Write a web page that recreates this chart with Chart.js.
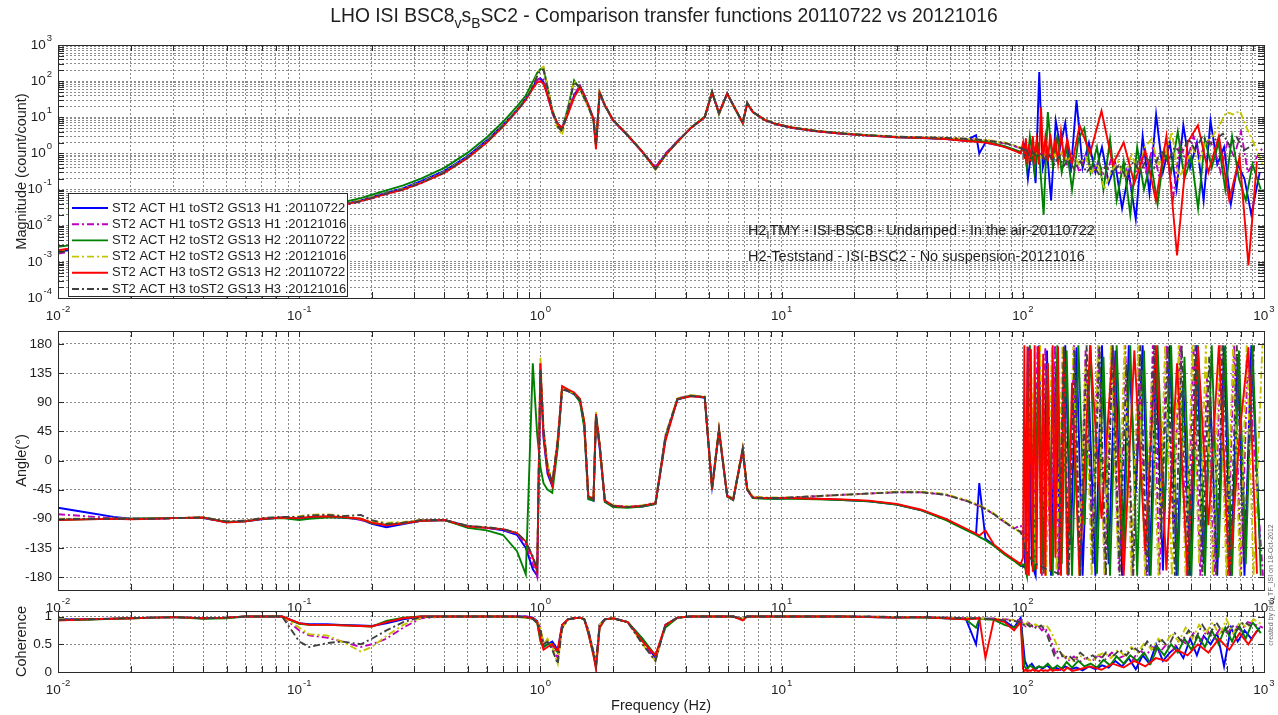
<!DOCTYPE html>
<html>
<head>
<meta charset="utf-8">
<title>LHO ISI BSC8 vs BSC2 transfer functions</title>
<script src="https://cdn.jsdelivr.net/npm/chart.js@4.4.1/dist/chart.umd.min.js"></script>
<style>
  html, body { margin: 0; padding: 0; background: #ffffff; }
  #wrap { position: relative; width: 1278px; height: 715px; overflow: hidden; background: #ffffff; }
  #wrap canvas { position: absolute; left: 0; top: 0; }
</style>
</head>
<body>
<div id="wrap">
  <canvas id="cMag" width="1278" height="715"></canvas>
  <canvas id="cPhase" width="1278" height="715"></canvas>
  <canvas id="cCoh" width="1278" height="715"></canvas>
</div>
<script>
// ---------------------------------------------------------------------------
// Frequency points (Hz): shared up to 100 Hz, then one set per measurement
// ---------------------------------------------------------------------------
const FREQ_HZ = [
  0.01, 0.013, 0.017, 0.02, 0.025, 0.03, 0.04, 0.05, 0.06, 0.07, 0.085, 0.1, 0.11, 0.13, 0.15, 0.18, 0.2, 0.23, 0.27, 0.32, 0.4, 0.5, 0.6, 0.7, 0.8, 0.87, 0.93, 0.97,
  1.0, 1.03, 1.07, 1.12, 1.18, 1.23, 1.3, 1.38, 1.46, 1.52, 1.58, 1.66, 1.7, 1.76, 1.85, 2.0, 2.3, 2.65, 3.0, 3.3, 3.7, 4.2, 4.8, 5.15, 5.5, 5.95, 6.3, 6.9, 7.2, 7.6, 8.5, 9.5,
  11, 14, 18, 23, 30, 38, 48, 58, 64, 66, 70, 76, 84, 92, 98
];
const FREQ_HI_H1_2011 = [102, 105, 109, 113, 117, 121, 126, 131, 137, 143, 150, 158, 167, 177, 188, 200, 213, 227, 242, 258, 275, 294, 314, 335, 357, 381, 407, 434, 463, 494, 527, 562, 600, 640, 683, 729, 778, 830, 886, 960];
const FREQ_HI_H1_2012 = [101, 103, 106, 111, 115, 120, 124, 130, 136, 140, 147, 154, 163, 172, 182, 194, 206, 219, 234, 250, 266, 284, 304, 324, 346, 369, 394, 420, 448, 478, 510, 544, 581, 620, 661, 705, 752, 803, 857, 990];
const FREQ_HI_H2_2011 = [101.5, 104, 107, 112, 116, 122, 127, 133, 139, 145, 152, 160, 170, 180, 191, 203, 216, 230, 245, 262, 279, 298, 318, 339, 362, 386, 412, 439, 468, 500, 533, 569, 607, 648, 691, 737, 787, 840, 896, 970];
const FREQ_HI_H2_2012 = [100.5, 102.5, 105, 108, 113, 118, 125, 132, 138, 146, 153, 162, 171, 182, 193, 205, 218, 232, 248, 264, 282, 301, 321, 342, 365, 389, 415, 443, 473, 505, 538, 574, 613, 654, 698, 745, 795, 848, 905, 985];
const FREQ_HI_H3_2011 = [100.3, 101.5, 103, 104.5, 106, 108, 110, 112, 114, 116.5, 119, 121.5, 124, 127, 130, 133, 136.5, 140, 144, 148, 153, 160, 172, 190, 212, 236, 262, 290, 322, 356, 394, 436, 482, 532, 588, 650, 718, 792, 862, 935];
const FREQ_HI_H3_2012 = [101, 102, 104, 107, 110, 114, 119, 124, 129, 135, 141, 148, 155, 164, 173, 184, 195, 208, 221, 236, 252, 269, 287, 307, 328, 350, 374, 400, 427, 456, 487, 520, 555, 593, 633, 676, 722, 771, 823, 910];

// Magnitude (count/count)
const MAG_H1_2011 = [
  0.0019, 0.0025, 0.0033, 0.0040, 0.0050, 0.0061, 0.0083, 0.0105, 0.0128, 0.015, 0.0188, 0.0225, 0.025, 0.031, 0.038, 0.05, 0.062, 0.082, 0.11, 0.17, 0.33, 0.85, 2.3, 6.2, 16, 33, 70, 110,
  120, 95, 42, 14, 6.5, 5.2, 13, 40, 75, 42, 22, 9, 1.8, 46, 21, 8.3, 3.1, 1.1, 0.4, 0.95, 2.2, 5, 10, 50, 13, 46, 22, 7, 25, 14, 8.5, 6.4,
  5.1, 4.1, 3.5, 3.1, 2.8, 2.65, 2.5, 2.25, 3.2, 1.0, 2.0, 1.8, 1.55, 1.25, 1.05,
  1.8, 0.2, 1.5, 0.15, 180, 0.4, 1.2, 0.05, 8, 1.5, 7, 0.3, 30, 0.4, 2, 0.3, 1.5, 0.15, 0.5, 0.03, 0.3, 0.015, 3, 0.08, 12, 0.3, 2, 0.1, 6, 0.4, 2, 0.05, 8, 0.5, 1.5, 0.04, 0.5, 0.2, 0.02, 0.3
];
const MAG_H1_2012 = [
  0.0017, 0.0022, 0.0030, 0.0036, 0.0046, 0.0057, 0.0079, 0.010, 0.0123, 0.0146, 0.0182, 0.0218, 0.0245, 0.030, 0.036, 0.047, 0.057, 0.075, 0.1, 0.15, 0.3, 0.78, 2.1, 5.8, 15, 31, 66, 105,
  125, 110, 45, 13, 6, 4.8, 14, 45, 72, 40, 21, 9, 2, 47, 21, 8.2, 3.1, 1.05, 0.42, 1.0, 2.2, 5, 10, 47, 13, 44, 21, 7, 24, 14, 8.4, 6.4,
  5.1, 4.1, 3.5, 3.15, 2.85, 2.75, 2.65, 2.5, 2.4, 2.35, 2.3, 2.1, 1.9, 1.6, 1.4,
  1.4, 1.2, 1.0, 1.2, 0.9, 1.0, 1.3, 0.8, 1.5, 0.7, 1.2, 0.4, 0.8, 0.3, 0.9, 0.3, 0.6, 0.2, 0.8, 0.25, 0.5, 0.1, 0.9, 0.3, 1.5, 0.2, 1.2, 0.06, 2, 0.5, 3, 0.8, 2.5, 1.5, 0.3, 2, 0.8, 4, 0.3, 1.5
];
const MAG_H2_2011 = [
  0.0026, 0.0033, 0.0042, 0.0050, 0.0062, 0.0074, 0.0098, 0.0122, 0.0148, 0.0174, 0.0215, 0.026, 0.029, 0.036, 0.044, 0.058, 0.072, 0.095, 0.13, 0.2, 0.4, 1.05, 2.8, 7.5, 20, 40, 95, 170,
  215, 230, 70, 16, 6, 4.5, 18, 105, 60, 33, 20, 8, 1.6, 50, 21, 8.4, 3.2, 1.1, 0.36, 0.9, 2.1, 5.1, 10.5, 52, 12, 46, 21, 6.8, 25, 14, 8.6, 6.5,
  5.2, 4.2, 3.6, 3.2, 2.85, 2.7, 2.55, 2.3, 2.2, 2.2, 2.1, 1.9, 1.6, 1.3, 1.1,
  1.5, 0.4, 3, 0.3, 2, 0.02, 14, 0.5, 3, 0.3, 1.5, 0.1, 2.5, 5, 0.3, 1.5, 0.1, 2.5, 0.05, 0.6, 0.02, 1.5, 0.1, 0.6, 0.04, 1.2, 0.3, 4, 0.2, 0.8, 0.03, 2.5, 0.4, 2, 0.1, 3, 0.2, 0.05, 0.5, 0.1
];
const MAG_H2_2012 = [
  0.0019, 0.0025, 0.0033, 0.0040, 0.0050, 0.0061, 0.0084, 0.0106, 0.013, 0.0153, 0.019, 0.0228, 0.0255, 0.032, 0.039, 0.05, 0.061, 0.08, 0.106, 0.16, 0.31, 0.8, 2.15, 6, 16, 32, 75, 150,
  220, 250, 75, 15, 5, 3.2, 16, 100, 65, 35, 20, 8.5, 1.7, 50, 22, 8.5, 3.3, 1.1, 0.35, 0.9, 2.1, 5, 10, 50, 12.5, 46, 22, 7.2, 25, 14, 8.7, 6.6,
  5.3, 4.2, 3.6, 3.2, 2.9, 2.8, 2.7, 2.55, 2.45, 2.4, 2.35, 2.2, 2.0, 1.7, 1.45,
  1.3, 1.1, 1.2, 0.9, 1.1, 0.8, 1.0, 1.2, 0.7, 1.1, 0.6, 1.0, 0.5, 0.8, 0.3, 0.5, 0.1, 0.3, 0.6, 0.2, 1.0, 0.3, 1.5, 2.5, 0.5, 0.8, 4, 0.2, 0.5, 1.5, 0.6, 2, 3, 6, 14, 12, 15, 5, 2, 0.5
];
const MAG_H3_2011 = [
  0.0021, 0.0027, 0.0035, 0.0042, 0.0052, 0.0063, 0.0085, 0.0107, 0.013, 0.0153, 0.019, 0.0225, 0.025, 0.031, 0.037, 0.048, 0.058, 0.076, 0.10, 0.15, 0.29, 0.75, 2.0, 5.5, 15, 30, 62, 92,
  100, 85, 40, 14, 6.5, 5, 12, 35, 68, 40, 22, 9, 1.3, 48, 22, 8.5, 3.2, 1.1, 0.38, 0.9, 2.1, 5, 10, 48, 13, 45, 22, 7, 24, 14, 8.5, 6.5,
  5.2, 4.1, 3.5, 3.1, 2.8, 2.7, 2.5, 2.2, 2.1, 2.05, 2.0, 1.8, 1.5, 1.2, 1.0,
  2.0, 0.7, 2.6, 0.5, 1.8, 0.6, 3, 0.8, 2.2, 0.5, 19, 0.7, 2.8, 0.6, 3.5, 0.9, 2.4, 0.55, 4, 0.8, 2.5, 0.5, 6, 1.0, 15, 0.5, 2, 0.15, 1.2, 0.05, 3, 0.0015, 2, 6, 0.3, 3, 0.05, 0.8, 0.0008, 0.6
];
const MAG_H3_2012 = [
  0.0018, 0.0024, 0.0032, 0.0039, 0.0049, 0.006, 0.0082, 0.0104, 0.0127, 0.015, 0.0186, 0.0222, 0.025, 0.031, 0.037, 0.048, 0.059, 0.078, 0.103, 0.155, 0.3, 0.78, 2.1, 5.8, 15.5, 31, 70, 140,
  200, 210, 65, 15, 5.5, 4, 16, 95, 66, 36, 20, 8.5, 1.8, 49, 22, 8.4, 3.2, 1.1, 0.37, 0.92, 2.1, 5, 10, 49, 13, 45, 22, 7, 25, 14, 8.6, 6.5,
  5.2, 4.15, 3.55, 3.2, 2.9, 2.8, 2.7, 2.55, 2.45, 2.4, 2.3, 2.15, 1.95, 1.65, 1.4,
  1.3, 0.9, 1.2, 0.7, 1.1, 0.8, 1.0, 0.6, 0.9, 0.5, 0.8, 0.45, 0.7, 0.35, 0.6, 0.3, 0.5, 0.25, 0.45, 0.3, 0.5, 0.2, 0.6, 0.3, 0.8, 0.4, 1.2, 0.6, 1.5, 1.0, 2.5, 1.2, 3, 1.8, 2.5, 3.5, 1.6, 2.8, 1.2, 1.8
];

// Phase (degrees)
const PHASE_H1_2011 = [
  -73, -80, -87, -90, -90, -89, -89, -95, -94, -91, -88, -90, -88, -87, -88, -91, -98, -103, -98, -93, -92, -101, -104, -108, -115, -135, -168, -178,
  140, 35, -20, -40, 25, 110, 108, 102, 92, 55, -58, -62, 65, 20, -63, -70, -72, -71, -67, 35, 94, 100, 97, -40, 45, -55, -61, 15, -45, -58, -58, -59,
  -58, -59, -61, -63, -68, -77, -91, -106, -114, -35, -121, -131, -144, -154, -162,
  -165, 175, -160, -178, 178, -150, 170, -178, 140, -170, 178, -130, 175, -178, 100, -178, 178, -160, 170, -178, 178, -50, 178, -178, 150, -170, 178, -178, 120, -178, 178, -160, 90, -178, 176, -178, 160, -178, 178, -120
];
const PHASE_H1_2012 = [
  -83, -86, -89, -90, -90, -89, -89, -95, -93, -90, -88, -89, -87, -85, -86, -92, -97, -100, -97, -93, -92, -102, -104, -107, -113, -130, -160, -180,
  150, 45, -10, -35, 30, 110, 107, 104, 93, 58, -56, -60, 68, 22, -62, -70, -71, -70, -66, 38, 96, 100, 98, -42, 47, -54, -60, 17, -44, -57, -58, -58,
  -57, -55, -53, -51, -49, -49, -53, -62, -68, -70, -75, -83, -95, -105, -100,
  -115, -130, 170, -150, 178, -178, 175, -160, 178, -178, 150, -178, 178, -178, 170, -120, 178, -178, 178, -170, 178, -178, 160, -178, 178, -178, 178, -100, 178, -178, 178, -178, 130, -178, 178, -178, 178, -178, 160, -178
];
const PHASE_H2_2011 = [
  -92, -91, -90, -90, -89, -89, -88, -95, -94, -90, -89, -92, -90, -88, -88, -90, -97, -99, -97, -93, -92, -104, -108, -115, -140, -176, 150, 40,
  -10, -35, -45, -50, 20, 112, 108, 103, 90, 50, -60, -62, 70, 25, -64, -72, -73, -71, -67, 35, 95, 100, 98, -45, 46, -56, -61, 16, -44, -58, -59, -59,
  -59, -60, -61, -63, -68, -77, -92, -107, -115, -118, -123, -132, -145, -155, -163,
  -160, -178, 178, -170, 176, -175, 150, -178, 178, -160, 170, -178, 178, -100, 178, -175, 160, -178, 178, -140, 178, -178, 170, -178, 178, -80, 178, -178, 160, -178, 178, -178, 178, -150, 178, -178, 170, -160, 178, -178
];
const PHASE_H2_2012 = [
  -90, -90, -90, -90, -90, -89, -88, -94, -93, -89, -88, -86, -84, -83, -85, -90, -94, -96, -95, -92, -92, -101, -103, -106, -112, -125, -150, -170,
  160, 50, -5, -33, 35, 112, 108, 104, 95, 60, -55, -58, 75, 28, -62, -69, -71, -69, -65, 40, 96, 101, 99, -40, 50, -52, -59, 20, -42, -56, -57, -57,
  -57, -55, -53, -51, -48, -48, -52, -61, -67, -69, -74, -82, -94, -104, -112,
  -112, -125, -140, 170, -160, 178, -178, 175, -170, 178, -178, 176, -178, 150, -178, 178, -178, 178, -150, 178, -178, 178, -178, 120, -178, 178, -178, 178, -178, 178, -160, 178, -178, 178, -178, 178, -178, 178, -178, 178
];
const PHASE_H3_2011 = [
  -92, -91, -90, -91, -90, -89, -88, -96, -94, -90, -88, -89, -87, -86, -87, -90, -96, -100, -97, -93, -92, -102, -104, -106, -112, -125, -150, -172,
  150, 40, -15, -38, 30, 115, 110, 105, 95, 60, -55, -60, 72, 25, -62, -70, -72, -70, -66, 30, 95, 99, 98, -45, 48, -55, -60, 18, -45, -57, -58, -58,
  -58, -59, -60, -62, -67, -76, -90, -105, -113, -116, -108, -130, -143, -153, -160,
  -150, 178, -176, 176, -178, 172, -172, 178, -168, 176, -175, 165, -178, 150, -170, 178, -150, 176, -178, 170, -176, 120, -178, 178, -90, 175, -178, 170, -140, 178, -170, 150, -178, 176, -100, 178, -178, 40, 175, -175
];
const PHASE_H3_2012 = [
  -91, -90, -90, -90, -90, -89, -88, -94, -93, -89, -87, -87, -85, -84, -86, -84, -92, -98, -96, -92, -92, -101, -103, -106, -112, -125, -148, -168,
  140, 50, -8, -35, 32, 110, 107, 103, 93, 58, -57, -60, 70, 25, -63, -70, -72, -70, -66, 38, 95, 100, 98, -42, 48, -54, -60, 18, -44, -57, -58, -58,
  -57, -55, -53, -51, -49, -49, -53, -62, -68, -70, -75, -83, -95, -105, -110,
  -125, -135, -142, -150, -155, -160, -163, -167, -170, -172, -175, 178, -178, 170, -178, 178, -160, 178, -178, 178, -178, 150, -178, 178, -178, 178, -120, 178, -178, 178, -178, 178, -178, 160, -178, 178, -178, 178, -150, 178
];

// Coherence
const COH_H1_2011 = [
  0.95, 0.95, 0.96, 0.97, 0.98, 0.99, 0.97, 0.98, 1, 1, 1, 0.88, 0.86, 0.86, 0.85, 0.84, 0.83, 0.88, 0.95, 1, 1, 1, 1, 1, 1, 1, 0.98, 0.92,
  0.65, 0.45, 0.5, 0.55, 0.4, 0.85, 0.95, 0.97, 0.98, 0.95, 0.75, 0.35, 0.1, 0.85, 0.95, 0.97, 0.9, 0.6, 0.25, 0.85, 0.98, 1, 1, 1, 1, 1, 1, 0.95, 1, 1, 1, 1,
  1, 1, 1, 0.99, 0.98, 0.99, 0.97, 0.96, 0.5, 0.95, 0.96, 0.96, 0.92, 0.8, 0.98,
  0.2, 0.08, 0.15, 0.05, 0.1, 0.06, 0.12, 0.05, 0.08, 0.04, 0.1, 0.05, 0.08, 0.03, 0.1, 0.05, 0.12, 0.08, 0.2, 0.1, 0.25, 0.05, 0.3, 0.15, 0.5, 0.2, 0.35, 0.45, 0.25, 0.6, 0.3, 0.65, 0.5, 0.7, 0.1, 0.8, 0.55, 0.75, 0.6, 0.8
];
const COH_H1_2012 = [
  0.94, 0.95, 0.96, 0.97, 0.98, 0.99, 0.97, 0.98, 1, 1, 1, 0.75, 0.66, 0.62, 0.55, 0.45, 0.5, 0.6, 0.8, 0.97, 1, 1, 1, 1, 1, 1, 0.98, 0.9,
  0.8, 0.5, 0.55, 0.45, 0.25, 0.8, 0.95, 0.97, 0.98, 0.95, 0.75, 0.35, 0.15, 0.85, 0.95, 0.97, 0.9, 0.55, 0.22, 0.85, 0.98, 1, 1, 1, 1, 1, 1, 0.96, 1, 1, 1, 1,
  1, 1, 1, 1, 0.99, 0.99, 0.98, 0.97, 0.97, 0.97, 0.96, 0.96, 0.95, 0.94, 0.93,
  0.85, 0.82, 0.88, 0.8, 0.84, 0.75, 0.8, 0.6, 0.35, 0.25, 0.3, 0.2, 0.28, 0.18, 0.25, 0.2, 0.3, 0.22, 0.35, 0.25, 0.3, 0.2, 0.4, 0.3, 0.45, 0.35, 0.5, 0.4, 0.6, 0.5, 0.7, 0.55, 0.75, 0.6, 0.8, 0.7, 0.85, 0.75, 0.9, 0.8
];
const COH_H2_2011 = [
  0.94, 0.94, 0.96, 0.97, 0.98, 0.99, 0.96, 0.97, 1, 1, 1, 0.87, 0.85, 0.85, 0.84, 0.83, 0.82, 0.92, 0.98, 1, 1, 1, 1, 1, 0.99, 0.98, 0.96, 0.88,
  0.55, 0.45, 0.5, 0.5, 0.35, 0.8, 0.95, 0.97, 0.98, 0.95, 0.7, 0.3, 0.1, 0.8, 0.95, 0.97, 0.9, 0.6, 0.3, 0.8, 0.98, 1, 1, 1, 1, 1, 1, 0.95, 1, 1, 1, 1,
  1, 1, 1, 0.99, 0.98, 0.98, 0.97, 0.95, 0.8, 0.96, 0.95, 0.94, 0.85, 0.8, 0.9,
  0.1, 0.05, 0.12, 0.06, 0.1, 0.08, 0.15, 0.05, 0.12, 0.06, 0.18, 0.08, 0.2, 0.1, 0.15, 0.08, 0.22, 0.12, 0.28, 0.15, 0.3, 0.2, 0.35, 0.15, 0.45, 0.3, 0.5, 0.35, 0.6, 0.4, 0.65, 0.45, 0.75, 0.5, 0.8, 0.55, 0.85, 0.6, 0.9, 0.7
];
const COH_H2_2012 = [
  0.95, 0.95, 0.96, 0.96, 0.98, 0.99, 0.97, 0.98, 1, 1, 1, 0.8, 0.68, 0.66, 0.55, 0.37, 0.45, 0.65, 0.85, 0.98, 1, 1, 1, 1, 1, 0.98, 0.97, 0.9,
  0.8, 0.5, 0.6, 0.45, 0.15, 0.8, 0.95, 0.97, 0.98, 0.95, 0.75, 0.35, 0.12, 0.85, 0.95, 0.97, 0.9, 0.5, 0.2, 0.85, 0.98, 1, 1, 1, 1, 1, 1, 0.96, 1, 1, 1, 1,
  1, 1, 1, 1, 0.99, 0.99, 0.98, 0.97, 0.97, 0.97, 0.96, 0.96, 0.95, 0.93, 0.9,
  0.88, 0.85, 0.9, 0.83, 0.86, 0.8, 0.85, 0.7, 0.5, 0.3, 0.25, 0.2, 0.3, 0.25, 0.2, 0.3, 0.35, 0.25, 0.4, 0.3, 0.45, 0.35, 0.55, 0.4, 0.6, 0.5, 0.7, 0.55, 0.8, 0.6, 0.85, 0.7, 0.9, 0.65, 0.95, 0.7, 0.9, 0.8, 0.95, 0.85
];
const COH_H3_2011 = [
  0.93, 0.95, 0.96, 0.97, 0.98, 0.99, 0.97, 0.98, 1, 1, 1, 0.88, 0.85, 0.85, 0.84, 0.83, 0.82, 0.9, 0.97, 1, 1, 1, 1, 1, 1, 0.99, 0.97, 0.9,
  0.6, 0.4, 0.45, 0.5, 0.38, 0.85, 0.95, 0.97, 0.98, 0.95, 0.7, 0.3, 0.05, 0.8, 0.95, 0.97, 0.9, 0.55, 0.3, 0.85, 0.98, 1, 1, 1, 1, 1, 1, 0.93, 1, 1, 1, 1,
  1, 1, 1, 0.99, 0.98, 0.99, 0.97, 0.95, 0.96, 0.97, 0.25, 0.96, 0.9, 0.75, 0.9,
  0.05, 0.02, 0.04, 0.01, 0.03, 0.02, 0.05, 0.02, 0.03, 0.01, 0.04, 0.02, 0.03, 0.02, 0.05, 0.02, 0.04, 0.03, 0.06, 0.02, 0.08, 0.02, 0.05, 0.1, 0.04, 0.15, 0.08, 0.2, 0.1, 0.25, 0.2, 0.4, 0.3, 0.5, 0.35, 0.6, 0.4, 0.7, 0.5, 0.75
];
const COH_H3_2012 = [
  0.94, 0.95, 0.96, 0.97, 0.98, 0.99, 0.97, 0.98, 1, 1, 1, 0.55, 0.45, 0.52, 0.55, 0.5, 0.6, 0.75, 0.9, 0.99, 1, 1, 1, 1, 1, 0.99, 0.96, 0.88,
  0.75, 0.5, 0.55, 0.4, 0.15, 0.78, 0.95, 0.97, 0.98, 0.95, 0.75, 0.35, 0.15, 0.85, 0.95, 0.97, 0.9, 0.5, 0.2, 0.85, 0.98, 1, 1, 1, 1, 1, 1, 0.96, 1, 1, 1, 1,
  1, 1, 1, 1, 0.99, 0.99, 0.98, 0.97, 0.97, 0.97, 0.96, 0.95, 0.93, 0.92, 0.9,
  0.85, 0.83, 0.86, 0.82, 0.85, 0.78, 0.84, 0.75, 0.55, 0.3, 0.4, 0.25, 0.3, 0.2, 0.35, 0.25, 0.3, 0.2, 0.35, 0.28, 0.4, 0.3, 0.45, 0.35, 0.55, 0.4, 0.6, 0.45, 0.7, 0.55, 0.75, 0.6, 0.85, 0.65, 0.9, 0.7, 0.85, 0.75, 0.9, 0.8
];

// Legend labels
const SERIES_LABELS = [
  'ST2 ACT H1 toST2 GS13 H1 :20110722',
  'ST2 ACT H1 toST2 GS13 H1 :20121016',
  'ST2 ACT H2 toST2 GS13 H2 :20110722',
  'ST2 ACT H2 toST2 GS13 H2 :20121016',
  'ST2 ACT H3 toST2 GS13 H2 :20110722',
  'ST2 ACT H3 toST2 GS13 H3 :20121016'
];
const SERIES_HI_FREQ = [FREQ_HI_H1_2011, FREQ_HI_H1_2012, FREQ_HI_H2_2011, FREQ_HI_H2_2012, FREQ_HI_H3_2011, FREQ_HI_H3_2012];

// Axis ticks
const FREQ_DECADES = [-2, -1, 0, 1, 2, 3];
const MAG_DECADES = [-4, -3, -2, -1, 0, 1, 2, 3];
const ANGLE_TICKS = [-180, -135, -90, -45, 0, 45, 90, 135, 180];
const COH_TICKS = [0, 0.5, 1];

// ---------------------------------------------------------------------------
// Styling
// ---------------------------------------------------------------------------
const FONT = '"Liberation Sans", Arial, Helvetica, sans-serif';
const TEXT_COLOR = '#1e1e1e';
const AXIS_COLOR = '#2a2a2a';
const GRID_COLOR = '#8c8c8c';
const GRID_DASH = [2, 2];
const TICK_PX = 13.5;
const SUP_PX = 9.5;
const LABEL_PX = 14.5;
const TICK_LEN = 6;
const LINE_W = 1.9;
const DASH_DOT = [7, 3, 2, 3];

const SERIES_STYLE = [
  { color: '#0000ff', dash: [] },
  { color: '#bf00bf', dash: DASH_DOT },
  { color: '#008000', dash: [] },
  { color: '#c4c400', dash: DASH_DOT },
  { color: '#ff0000', dash: [] },
  { color: '#404040', dash: DASH_DOT }
];

// Plot areas (canvas pixels)
const PANEL_LEFT = 58, PANEL_RIGHT = 1264;
const MAG_AREA = { top: 45, bottom: 298 };
const PHASE_AREA = { top: 331, bottom: 590 };
const COH_AREA = { top: 611, bottom: 672 };

// Grid positions for the log axes (1..9 per decade)
function decadeGrid(decades) {
  const vals = [];
  for (let i = 0; i < decades.length - 1; i++) {
    for (let k = 1; k <= 9; k++) vals.push(k * Math.pow(10, decades[i]));
  }
  vals.push(Math.pow(10, decades[decades.length - 1]));
  return vals;
}
const FREQ_GRID = decadeGrid(FREQ_DECADES);
const MAG_GRID = decadeGrid(MAG_DECADES);

// ---------------------------------------------------------------------------
// Helpers
// ---------------------------------------------------------------------------
function toPoints(arr, i) {
  const freqs = FREQ_HZ.concat(SERIES_HI_FREQ[i]);
  return freqs.map((f, k) => ({ x: f, y: arr[k] }));
}

function makeDatasets(arrays) {
  return arrays.map((arr, i) => ({
    label: SERIES_LABELS[i],
    data: toPoints(arr, i),
    borderColor: SERIES_STYLE[i].color,
    borderDash: SERIES_STYLE[i].dash,
    borderWidth: LINE_W,
    pointRadius: 0,
    tension: 0,
    fill: false,
    order: arrays.length - i   // later series drawn on top
  }));
}

function logX() {
  return {
    type: 'logarithmic',
    min: 0.01, max: 1000,
    afterBuildTicks: s => { s.ticks = FREQ_GRID.map(v => ({ value: v })); },
    afterFit: s => { s.height = 0; },
    ticks: { display: false },
    grid: { color: GRID_COLOR, lineWidth: 1, drawTicks: false },
    border: { display: false, dash: GRID_DASH }
  };
}

function drawPow(ctx, exp, x, y, align) {
  const base = '10', sup = String(exp);
  ctx.font = `${TICK_PX}px ${FONT}`;
  const wb = ctx.measureText(base).width;
  ctx.font = `${SUP_PX}px ${FONT}`;
  const ws = ctx.measureText(sup).width;
  const total = wb + ws + 1;
  const x0 = align === 'right' ? x - total : x - total / 2;
  ctx.textAlign = 'left';
  ctx.textBaseline = 'middle';
  ctx.fillStyle = TEXT_COLOR;
  ctx.font = `${TICK_PX}px ${FONT}`;
  ctx.fillText(base, x0, y);
  ctx.font = `${SUP_PX}px ${FONT}`;
  ctx.fillText(sup, x0 + wb + 1, y - 7);
}

// Text made of runs, some of them subscripted
function drawRuns(ctx, runs, x, y, px, align) {
  const subPx = px * 0.72;
  let total = 0;
  runs.forEach(r => {
    ctx.font = `${r.sub ? subPx : px}px ${FONT}`;
    r.w = ctx.measureText(r.t).width;
    total += r.w;
  });
  let cx = align === 'center' ? x - total / 2 : x;
  ctx.textAlign = 'left';
  ctx.textBaseline = 'middle';
  ctx.fillStyle = TEXT_COLOR;
  runs.forEach(r => {
    ctx.font = `${r.sub ? subPx : px}px ${FONT}`;
    ctx.fillText(r.t, cx, r.sub ? y + px * 0.35 : y);
    cx += r.w;
  });
}

function drawRotated(ctx, text, x, y, px, color) {
  ctx.save();
  ctx.translate(x, y);
  ctx.rotate(-Math.PI / 2);
  ctx.font = `${px}px ${FONT}`;
  ctx.fillStyle = color || TEXT_COLOR;
  ctx.textAlign = 'center';
  ctx.textBaseline = 'middle';
  ctx.fillText(text, 0, 0);
  ctx.restore();
}

// Frame, inward tick marks, frequency labels and any panel extras
function panelPlugin(id, extra) {
  return {
    id,
    afterDraw(chart) {
      const { ctx, chartArea: a } = chart;
      const xs = chart.scales.x, ys = chart.scales.y;
      ctx.save();
      ctx.strokeStyle = AXIS_COLOR;
      ctx.lineWidth = 1;
      ctx.setLineDash([]);
      ctx.beginPath();
      xs.ticks.forEach(t => {
        const px = Math.round(xs.getPixelForValue(t.value)) + 0.5;
        ctx.moveTo(px, a.bottom); ctx.lineTo(px, a.bottom - TICK_LEN);
        ctx.moveTo(px, a.top); ctx.lineTo(px, a.top + TICK_LEN);
      });
      ys.ticks.forEach(t => {
        const py = Math.round(ys.getPixelForValue(t.value)) + 0.5;
        ctx.moveTo(a.left, py); ctx.lineTo(a.left + TICK_LEN, py);
        ctx.moveTo(a.right, py); ctx.lineTo(a.right - TICK_LEN, py);
      });
      ctx.stroke();
      ctx.strokeRect(Math.round(a.left) + 0.5, Math.round(a.top) + 0.5, Math.round(a.width), Math.round(a.height));

      FREQ_DECADES.forEach(e => {
        drawPow(ctx, e, xs.getPixelForValue(Math.pow(10, e)), a.bottom + 18, 'center');
      });
      if (extra) extra(chart, ctx, a, xs, ys);
      ctx.restore();
    }
  };
}

function baseOptions(area, yScale) {
  return {
    responsive: false,
    animation: false,
    events: [],
    devicePixelRatio: 1,
    layout: { padding: { left: PANEL_LEFT, right: 1278 - PANEL_RIGHT, top: area.top, bottom: 715 - area.bottom } },
    plugins: { legend: { display: false }, tooltip: { enabled: false }, title: { display: false } },
    scales: { x: logX(), y: yScale }
  };
}

// ---------------------------------------------------------------------------
// Magnitude panel
// ---------------------------------------------------------------------------
new Chart(document.getElementById('cMag'), {
  type: 'line',
  data: { datasets: makeDatasets([MAG_H1_2011, MAG_H1_2012, MAG_H2_2011, MAG_H2_2012, MAG_H3_2011, MAG_H3_2012]) },
  options: baseOptions(MAG_AREA, {
    type: 'logarithmic',
    min: 1e-4, max: 1e3,
    afterBuildTicks: s => { s.ticks = MAG_GRID.map(v => ({ value: v })); },
    afterFit: s => { s.width = 0; },
    ticks: { display: false },
    grid: { color: GRID_COLOR, lineWidth: 1, drawTicks: false },
    border: { display: false, dash: GRID_DASH }
  }),
  plugins: [panelPlugin('magPanel', (chart, ctx, a, xs, ys) => {
    MAG_DECADES.forEach(e => drawPow(ctx, e, a.left - 6, ys.getPixelForValue(Math.pow(10, e)), 'right'));
    drawRotated(ctx, 'Magnitude (count/count)', 22, (a.top + a.bottom) / 2, LABEL_PX);

    // figure title
    drawRuns(ctx, [
      { t: 'LHO ISI BSC8' }, { t: 'v', sub: true }, { t: 's' }, { t: 'B', sub: true },
      { t: 'SC2 - Comparison transfer functions 20110722 vs 20121016' }
    ], (a.left + a.right) / 2 + 3, 17, 19.3, 'center');

    // setup notes
    drawRuns(ctx, [{ t: 'H2' }, { t: 'I', sub: true }, { t: 'TMY - ISI-BSC8 - Undamped - In the air-20110722' }], 748, 231, 14.5, 'left');
    drawRuns(ctx, [{ t: 'H2-Teststand - ISI-BSC2 - No suspension-20121016' }], 748, 257, 14.5, 'left');

    // legend
    const lx = 68, ly = 193, lw = 279, lh = 103;
    ctx.fillStyle = '#ffffff';
    ctx.fillRect(lx, ly, lw, lh);
    ctx.strokeStyle = AXIS_COLOR;
    ctx.lineWidth = 1;
    ctx.setLineDash([]);
    ctx.strokeRect(lx + 0.5, ly + 0.5, lw, lh);
    SERIES_LABELS.forEach((label, i) => {
      const yy = ly + 15 + i * 16.2;
      ctx.strokeStyle = SERIES_STYLE[i].color;
      ctx.lineWidth = LINE_W;
      ctx.setLineDash(SERIES_STYLE[i].dash);
      ctx.beginPath();
      ctx.moveTo(lx + 4, yy); ctx.lineTo(lx + 40, yy);
      ctx.stroke();
      ctx.setLineDash([]);
      ctx.fillStyle = TEXT_COLOR;
      ctx.font = `13px ${FONT}`;
      ctx.textAlign = 'left';
      ctx.textBaseline = 'middle';
      ctx.fillText(label, lx + 44, yy);
    });
  })]
});

// ---------------------------------------------------------------------------
// Phase panel
// ---------------------------------------------------------------------------
new Chart(document.getElementById('cPhase'), {
  type: 'line',
  data: { datasets: makeDatasets([PHASE_H1_2011, PHASE_H1_2012, PHASE_H2_2011, PHASE_H2_2012, PHASE_H3_2011, PHASE_H3_2012]) },
  options: baseOptions(PHASE_AREA, {
    type: 'linear',
    min: -200, max: 200,
    afterBuildTicks: s => { s.ticks = ANGLE_TICKS.map(v => ({ value: v })); },
    afterFit: s => { s.width = 0; },
    ticks: { display: false },
    grid: { color: GRID_COLOR, lineWidth: 1, drawTicks: false },
    border: { display: false, dash: GRID_DASH }
  }),
  plugins: [panelPlugin('phasePanel', (chart, ctx, a, xs, ys) => {
    ctx.font = `${TICK_PX}px ${FONT}`;
    ctx.fillStyle = TEXT_COLOR;
    ctx.textAlign = 'right';
    ctx.textBaseline = 'middle';
    ANGLE_TICKS.forEach(v => ctx.fillText(String(v), a.left - 6, ys.getPixelForValue(v)));
    drawRotated(ctx, 'Angle(\u00b0)', 22, (a.top + a.bottom) / 2, LABEL_PX);
  })]
});

// ---------------------------------------------------------------------------
// Coherence panel
// ---------------------------------------------------------------------------
new Chart(document.getElementById('cCoh'), {
  type: 'line',
  data: { datasets: makeDatasets([COH_H1_2011, COH_H1_2012, COH_H2_2011, COH_H2_2012, COH_H3_2011, COH_H3_2012]) },
  options: baseOptions(COH_AREA, {
    type: 'linear',
    min: 0, max: 1.1,
    afterBuildTicks: s => { s.ticks = COH_TICKS.map(v => ({ value: v })); },
    afterFit: s => { s.width = 0; },
    ticks: { display: false },
    grid: { color: GRID_COLOR, lineWidth: 1, drawTicks: false },
    border: { display: false, dash: GRID_DASH }
  }),
  plugins: [panelPlugin('cohPanel', (chart, ctx, a, xs, ys) => {
    ctx.font = `${TICK_PX}px ${FONT}`;
    ctx.fillStyle = TEXT_COLOR;
    ctx.textAlign = 'right';
    ctx.textBaseline = 'middle';
    COH_TICKS.forEach(v => ctx.fillText(String(v), a.left - 6, ys.getPixelForValue(v)));
    drawRotated(ctx, 'Coherence', 22, (a.top + a.bottom) / 2, LABEL_PX);

    ctx.font = `${LABEL_PX}px ${FONT}`;
    ctx.fillStyle = TEXT_COLOR;
    ctx.textAlign = 'center';
    ctx.textBaseline = 'middle';
    ctx.fillText('Frequency (Hz)', (a.left + a.right) / 2, 706);

    drawRotated(ctx, 'created by plot_TF_ISI on 18-Oct-2012', 1271, 585, 7, '#6a6a6a');
  })]
});
</script>
</body>
</html>
